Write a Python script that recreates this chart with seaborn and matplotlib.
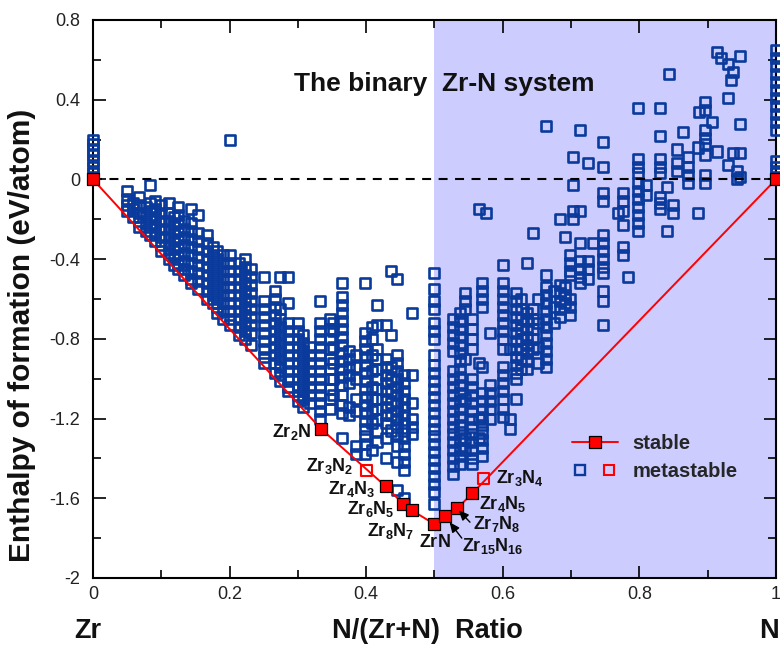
import numpy as np
import pandas as pd
import matplotlib
matplotlib.use("Agg")
import matplotlib.pyplot as plt
import seaborn as sns
from matplotlib.lines import Line2D
from matplotlib.legend_handler import HandlerTuple
from matplotlib import ticker

# ---------------- data ----------------
# metastable / unstable structures: (N fraction, [formation enthalpies])
end_zr = [(0.0, [0.0, 0.03, 0.06, 0.09, 0.12, 0.15, 0.18, 0.20])]
end_n = [(1.0, [0.0, 0.03, 0.06, 0.09, 0.25, 0.29, 0.33, 0.37, 0.41, 0.45,
                0.49, 0.53, 0.57, 0.61, 0.65])]

zr_side = [
    (0.050, [-0.06, -0.10, -0.13, -0.16]),
    (0.059, [-0.12, -0.15, -0.19]),
    (0.067, [-0.09, -0.13, -0.17, -0.21, -0.24]),
    (0.077, [-0.14, -0.18, -0.22, -0.26]),
    (0.083, [-0.03, -0.12, -0.16, -0.20, -0.24, -0.28]),
    (0.091, [-0.11, -0.15, -0.19, -0.23, -0.27, -0.31]),
    (0.100, [-0.13, -0.17, -0.21, -0.25, -0.29, -0.33, -0.36]),
    (0.111, [-0.12, -0.17, -0.21, -0.25, -0.29, -0.33, -0.37, -0.40]),
    (0.118, [-0.19, -0.23, -0.27, -0.31, -0.35, -0.39, -0.43]),
    (0.125, [-0.14, -0.18, -0.22, -0.26, -0.30, -0.34, -0.38, -0.42, -0.45]),
    (0.133, [-0.21, -0.25, -0.29, -0.33, -0.37, -0.41, -0.45, -0.48]),
    (0.143, [-0.15, -0.22, -0.26, -0.30, -0.34, -0.38, -0.42, -0.46, -0.50, -0.52]),
    (0.154, [-0.18, -0.27, -0.31, -0.35, -0.39, -0.43, -0.47, -0.51, -0.55]),
    (0.167, [-0.28, -0.32, -0.36, -0.40, -0.44, -0.48, -0.52, -0.56, -0.60]),
    (0.176, [-0.34, -0.38, -0.42, -0.46, -0.50, -0.54, -0.58, -0.62]),
    (0.182, [-0.36, -0.40, -0.44, -0.48, -0.52, -0.56, -0.60, -0.64, -0.67]),
    (0.190, [-0.38, -0.42, -0.46, -0.50, -0.54, -0.58, -0.62, -0.66, -0.70]),
    (0.200, [0.20, -0.38, -0.42, -0.46, -0.50, -0.54, -0.58, -0.62, -0.66, -0.70, -0.73]),
    (0.214, [-0.42, -0.46, -0.50, -0.54, -0.58, -0.62, -0.66, -0.70, -0.74, -0.78]),
    (0.222, [-0.40, -0.44, -0.48, -0.52, -0.56, -0.60, -0.64, -0.68, -0.72, -0.76, -0.80]),
    (0.231, [-0.45, -0.49, -0.53, -0.57, -0.61, -0.65, -0.69, -0.73, -0.77, -0.83]),
    (0.250, [-0.49, -0.61, -0.65, -0.69, -0.73, -0.77, -0.81, -0.85, -0.89, -0.92]),
    (0.267, [-0.56, -0.60, -0.64, -0.68, -0.72, -0.76, -0.80, -0.84, -0.88, -0.92, -0.97]),
    (0.274, [-0.49, -0.65, -0.70, -0.74, -0.78, -0.82, -0.86, -0.90, -0.94, -0.98, -1.01]),
    (0.286, [-0.49, -0.62, -0.72, -0.76, -0.80, -0.84, -0.88, -0.92, -0.96, -1.00, -1.04, -1.06]),
    (0.300, [-0.72, -0.76, -0.80, -0.84, -0.88, -0.92, -0.96, -1.00, -1.04, -1.08, -1.11]),
    (0.308, [-0.78, -0.82, -0.86, -0.90, -0.94, -0.98, -1.02, -1.06, -1.10, -1.14]),
    (0.318, [-0.84, -0.88, -0.92, -0.96, -1.00, -1.04, -1.08, -1.12]),
    (0.333, [-0.61, -0.72, -0.76, -0.80, -0.84, -0.88, -0.92, -0.96, -1.00, -1.04,
             -1.08, -1.12, -1.16, -1.20]),
]

mid_side = [
    (0.347, [-0.70, -0.75, -0.80, -0.85, -0.90, -0.95, -1.00, -1.05, -1.10, -1.15]),
    (0.352, [-0.72, -0.76, -0.84, -0.92, -1.00, -1.08]),
    (0.364, [-0.52, -0.59, -0.63, -0.67, -0.71, -0.75, -0.79, -0.83, -0.87, -0.91,
             -0.95, -0.99, -1.03, -1.08, -1.13, -1.17, -1.30]),
    (0.375, [-0.86, -0.90, -0.94, -0.98, -1.02, -1.14, -1.18]),
    (0.385, [-0.88, -0.94, -1.00, -1.10, -1.16, -1.34, -1.38]),
    (0.398, [-0.52, -0.77, -0.81, -0.85, -0.89, -0.93, -0.97, -1.01, -1.05, -1.09,
             -1.13, -1.17, -1.21, -1.25, -1.29, -1.33, -1.38]),
    (0.409, [-0.74, -0.80, -0.88, -0.96, -1.04, -1.10, -1.16, -1.22, -1.36]),
    (0.416, [-0.63, -0.73, -0.85, -0.90, -0.95, -1.00, -1.05, -1.10, -1.15, -1.20,
             -1.26, -1.32]),
    (0.429, [-0.73, -0.90, -0.94, -0.98, -1.02, -1.06, -1.10, -1.14, -1.18, -1.22,
             -1.30, -1.40]),
    (0.437, [-0.46, -0.78, -0.94, -1.00, -1.06, -1.12, -1.18, -1.26]),
    (0.445, [-0.50, -0.88, -0.92, -0.96, -1.00, -1.04, -1.08, -1.12, -1.16, -1.20,
             -1.24, -1.28, -1.34, -1.42, -1.56]),
    (0.455, [-0.98, -1.02, -1.06, -1.10, -1.14, -1.18, -1.22, -1.26, -1.30, -1.34,
             -1.38, -1.42, -1.46, -1.60]),
    (0.467, [-0.67, -0.98, -1.12, -1.20, -1.24, -1.28]),
]

half_column = [
    (0.500, [-0.47, -0.55, -0.61, -0.65, -0.72, -0.76, -0.80, -0.88, -0.93, -0.97,
             -1.01, -1.05, -1.09, -1.13, -1.17, -1.21, -1.25, -1.29, -1.33, -1.37,
             -1.41, -1.45, -1.49, -1.53, -1.57, -1.63]),
]

n_side_low = [
    (0.527, [-0.70, -0.74, -0.78, -0.82, -0.86, -0.96, -1.00, -1.04, -1.08, -1.12,
             -1.16, -1.20, -1.24, -1.28, -1.32, -1.36, -1.40, -1.44, -1.48]),
    (0.537, [-0.67, -0.71, -0.75, -0.79, -0.83, -0.87, -0.91, -0.95, -0.99, -1.03,
             -1.07, -1.11, -1.15, -1.19, -1.23, -1.27, -1.31, -1.35, -1.39, -1.43]),
    (0.545, [-0.57, -0.61, -0.65, -0.90, -1.10, -1.30, -1.36]),
    (0.555, [-0.70, -0.75, -0.80, -0.85, -1.00, -1.04, -1.08, -1.12, -1.16, -1.20,
             -1.24, -1.28, -1.32, -1.36, -1.40, -1.43]),
    (0.565, [-0.15, -0.92, -1.20, -1.30]),
    (0.570, [-0.52, -0.56, -0.60, -0.64, -0.94, -1.07, -1.11, -1.15, -1.19, -1.23,
             -1.27, -1.31, -1.35, -1.39]),
    (0.575, [-0.17]),
    (0.581, [-0.77, -1.03, -1.07, -1.11, -1.15, -1.20]),
    (0.600, [-0.43, -0.52, -0.56, -0.60, -0.64, -0.68, -0.72, -0.76, -0.80, -0.85,
             -0.94, -0.98, -1.02, -1.06, -1.10, -1.15, -1.19]),
    (0.610, [-0.85, -1.20, -1.25]),
    (0.620, [-0.57, -0.61, -0.65, -0.69, -0.73, -0.77, -0.81, -0.85, -0.89, -0.93,
             -0.97, -1.00, -1.10]),
    (0.627, [-0.60, -0.65, -0.70, -0.75, -0.80, -0.85, -0.90, -0.95]),
    (0.635, [-0.42, -0.67, -0.71, -0.75, -0.79, -0.83, -0.87, -0.91, -0.95]),
    (0.644, [-0.27, -0.65, -0.70, -0.75, -0.80, -0.85]),
    (0.652, [-0.60, -0.72, -0.84, -0.92]),
]

n_side_high = [
    (0.664, [0.27, -0.48, -0.54, -0.58, -0.62, -0.66, -0.70, -0.74, -0.78, -0.82,
             -0.86, -0.90, -0.94]),
    (0.675, [-0.56, -0.64, -0.72]),
    (0.684, [-0.20, -0.53, -0.57, -0.61, -0.65, -0.69]),
    (0.691, [-0.29, -0.54, -0.58, -0.62]),
    (0.698, [-0.38, -0.42, -0.46, -0.48, -0.60, -0.64, -0.68]),
    (0.703, [0.11, -0.03, -0.16, -0.20]),
    (0.713, [0.25, -0.16, -0.32, -0.41, -0.45, -0.49, -0.52]),
    (0.725, [0.08, -0.41, -0.45, -0.50]),
    (0.732, [-0.32]),
    (0.747, [0.19, 0.06, -0.07, -0.11, -0.28, -0.32, -0.36, -0.40, -0.44, -0.47,
             -0.56, -0.61, -0.73]),
    (0.769, [-0.17]),
    (0.776, [-0.07, -0.11, -0.16, -0.23, -0.34, -0.38]),
    (0.783, [-0.49]),
    (0.798, [0.36, 0.10, 0.06, 0.03, -0.02, -0.06, -0.10, -0.14, -0.18, -0.22, -0.26]),
    (0.810, [-0.03, -0.08]),
    (0.830, [0.36, 0.22, 0.10, 0.06, 0.03, -0.09, -0.12, -0.15]),
    (0.840, [-0.04, -0.26]),
    (0.843, [0.53]),
    (0.849, [-0.13, -0.17]),
    (0.855, [0.15, 0.08, 0.04]),
    (0.864, [0.24]),
    (0.871, [0.11, 0.06, 0.02, -0.02]),
    (0.886, [0.16, -0.17]),
    (0.887, [0.34]),
    (0.896, [0.39, 0.35, 0.25, 0.21, 0.18, 0.12, 0.02, -0.02]),
    (0.906, [0.29]),
    (0.914, [0.64, 0.14]),
    (0.920, [0.61]),
    (0.930, [0.58, 0.41, 0.07]),
    (0.934, [0.50]),
    (0.937, [0.54, 0.13]),
    (0.943, [0.04, 0.00]),
    (0.947, [0.62, 0.28, 0.13, 0.01]),
]

# convex hull (stable phases)
stable_names = ["Zr", "Zr2N", "Zr4N3", "Zr6N5", "Zr8N7", "ZrN", "Zr15N16", "Zr7N8", "Zr4N5", "N"]
stable_x = [0.0, 1/3, 3/7, 5/11, 7/15, 1/2, 16/31, 8/15, 5/9, 1.0]
stable_y = [0.0, -1.25, -1.54, -1.63, -1.66, -1.73, -1.69, -1.65, -1.575, 0.0]

# metastable phases near the hull
meta_names = ["Zr3N2", "Zr3N4"]
meta_x = [0.4, 4/7]
meta_y = [-1.46, -1.50]

# phase labels
label_text = [r"$\mathbf{Zr_2N}$", r"$\mathbf{Zr_3N_2}$", r"$\mathbf{Zr_4N_3}$",
              r"$\mathbf{Zr_6N_5}$", r"$\mathbf{Zr_8N_7}$", r"$\mathbf{ZrN}$",
              r"$\mathbf{Zr_{15}N_{16}}$", r"$\mathbf{Zr_7N_8}$", r"$\mathbf{Zr_4N_5}$",
              r"$\mathbf{Zr_3N_4}$"]

xticks = [0, 0.2, 0.4, 0.6, 0.8, 1.0]
yticks = [-2, -1.6, -1.2, -0.8, -0.4, 0, 0.4, 0.8]

# ---------------- build table ----------------
rows = []
for group in (end_zr, zr_side, mid_side, half_column, n_side_low, n_side_high, end_n):
    for xv, ys in group:
        for yv in ys:
            rows.append((xv, yv))
df = pd.DataFrame(rows, columns=["x", "y"])

# ---------------- style ----------------
sns.set_theme(style="ticks")
plt.rcParams["font.family"] = ["Liberation Sans", "DejaVu Sans"]
plt.rcParams["mathtext.fontset"] = "custom"
plt.rcParams["mathtext.rm"] = "Liberation Sans"
plt.rcParams["mathtext.bf"] = "Liberation Sans:bold"
plt.rcParams["mathtext.it"] = "Liberation Sans:italic"
plt.rcParams["axes.unicode_minus"] = False

BLUE = "#0A3A9C"
SHADE = "#CCCCFF"

fig = plt.figure(figsize=(7.8, 6.46), dpi=100)
ax = fig.add_axes([0.1192, 0.1053, 0.8756, 0.8638])
ax.set_facecolor("white")

ax.axvspan(0.5, 1.0, color=SHADE, lw=0, zorder=0)
ax.axhline(0, color="black", lw=1.5, ls=(0, (4.3, 3.6)), zorder=3.5)

sns.scatterplot(data=df, x="x", y="y", marker="s", s=52, facecolor="none",
                edgecolor=BLUE, linewidth=1.9, ax=ax, zorder=3, clip_on=False,
                legend=False)

sns.lineplot(x=stable_x, y=stable_y, sort=False, estimator=None, color="red",
             lw=1.4, ax=ax, zorder=4)
sns.scatterplot(x=stable_x, y=stable_y, marker="s", s=76, color="red",
                edgecolor="black", linewidth=0.9, ax=ax, zorder=6, clip_on=False,
                legend=False)
sns.scatterplot(x=meta_x, y=meta_y, marker="s", s=64, facecolor="none",
                edgecolor="red", linewidth=1.5, ax=ax, zorder=5, legend=False)

# labels of phases
label_x = [0.320, 0.381, 0.413, 0.442, 0.471, 0.500, 0.540, 0.556, 0.565, 0.590]
label_y = [-1.27, -1.44, -1.555, -1.656, -1.762, -1.823, -1.838, -1.728, -1.627, -1.50]
label_ha = ["right"] * 5 + ["center"] + ["left"] * 4
for t, lx, ly, ha in zip(label_text, label_x, label_y, label_ha):
    ax.text(lx, ly, t, ha=ha, va="center", fontsize=13, color="#111111", zorder=7)

arrow_kw = dict(arrowstyle="-|>,head_length=0.5,head_width=0.22", color="black",
                lw=1.0, shrinkA=0, shrinkB=0)
ax.annotate("", xy=(stable_x[7] + 0.002, stable_y[7] - 0.01), xytext=(0.552, -1.72),
            arrowprops=arrow_kw, zorder=7)
ax.annotate("", xy=(stable_x[6] + 0.006, stable_y[6] - 0.03), xytext=(0.540, -1.80),
            arrowprops=arrow_kw, zorder=7)

ax.text(0.514, 0.478, "The binary  Zr-N system", ha="center", va="center",
        fontsize=19, fontweight="bold", color="#111111")

# axes
ax.set_xlim(0, 1)
ax.set_ylim(-2, 0.8)
ax.xaxis.set_major_locator(ticker.FixedLocator(xticks))
ax.xaxis.set_minor_locator(ticker.MultipleLocator(0.1))
ax.yaxis.set_major_locator(ticker.FixedLocator(yticks))
ax.yaxis.set_minor_locator(ticker.MultipleLocator(0.2))
fmt = ticker.FuncFormatter(lambda v, p: f"{v:g}")
ax.xaxis.set_major_formatter(fmt)
ax.yaxis.set_major_formatter(fmt)
ax.tick_params(which="both", direction="in", top=True, right=True, width=1.2,
               colors="black", labelsize=13, labelcolor="#222222")
ax.tick_params(which="major", length=9)
ax.tick_params(which="minor", length=5.5)
ax.tick_params(axis="y", which="major", pad=9)
ax.tick_params(axis="x", which="major", pad=6)
for s in ax.spines.values():
    s.set_linewidth(1.5)
    s.set_color("black")

ax.set_xlabel("N/(Zr+N)  Ratio", fontsize=19.5, fontweight="bold", color="#111111")
ax.xaxis.set_label_coords(0.489, -0.072)
ax.xaxis.label.set_va("top")
ax.text(-0.008, -0.072, "Zr", transform=ax.transAxes, ha="center", va="top",
        fontsize=19.5, fontweight="bold", color="#111111")
ax.text(0.99, -0.072, "N", transform=ax.transAxes, ha="center", va="top",
        fontsize=19.5, fontweight="bold", color="#111111")
ax.set_ylabel("Enthalpy of formation (eV/atom)", fontsize=21.5, fontweight="bold",
              color="#111111")
ax.yaxis.set_label_coords(-0.083, 0.435)

# legend
h_stable = Line2D([], [], color="red", lw=1.4, marker="s", ms=8.7, mfc="red",
                  mec="black", mew=0.9)
h_blue = Line2D([], [], ls="none", marker="s", ms=7.8, mfc="none", mec=BLUE, mew=1.7)
h_red = Line2D([], [], ls="none", marker="s", ms=7.8, mfc="none", mec="red", mew=1.5)
ax.legend([h_stable, (h_blue, h_red)], ["stable", "metastable"],
          handler_map={tuple: HandlerTuple(ndivide=None, pad=0.6)},
          frameon=False, loc="upper left", bbox_to_anchor=(0.701, 0.258),
          borderaxespad=0, borderpad=0, handlelength=2.3, handletextpad=0.7,
          labelspacing=0.45, prop={"size": 14.5, "weight": "bold"})

fig.savefig("out.png", dpi=100)
